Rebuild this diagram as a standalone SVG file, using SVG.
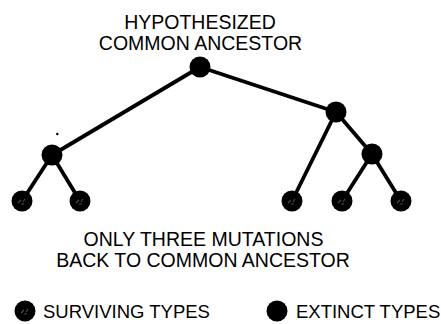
<svg xmlns="http://www.w3.org/2000/svg" width="441" height="324" viewBox="0 0 441 324">
  <style>
    .label { font-family: "Liberation Sans", Arial, Helvetica, sans-serif; font-size: 19.5px; fill: #000; text-anchor: middle; }
    .legend { font-family: "Liberation Sans", Arial, Helvetica, sans-serif; font-size: 18.5px; fill: #000; }
    .edge { stroke: #000; stroke-width: 3.8; stroke-linecap: round; fill: none; }
    .dot { fill: #000; }
    .speck { fill: #5a5a5a; }
  </style>
  <defs>
    <!-- extinct type: plain black disc -->
    <g id="extinct">
      <circle r="10.5" class="dot"/>
    </g>
    <!-- surviving type: black disc with a faint grey mark -->
    <g id="surviving">
      <circle r="10.5" class="dot"/>
      <path d="M-4 2 L-1 -1 M1 1 L3 -2 M-1 3 L2 3" stroke="#4a4a4a" stroke-width="1.2" fill="none"/>
    </g>
  </defs>

  <rect width="441" height="324" fill="#fff"/>

  <g id="title">
    <text class="label" x="200" y="28.5">HYPOTHESIZED</text>
    <text class="label" x="200.5" y="49.5">COMMON ANCESTOR</text>
  </g>

  <g id="connectors">
    <line class="edge" x1="200" y1="67" x2="52" y2="155"/>
    <line class="edge" x1="200" y1="67" x2="336" y2="112"/>
    <line class="edge" x1="52" y1="155" x2="22" y2="201"/>
    <line class="edge" x1="52" y1="155" x2="80" y2="201"/>
    <line class="edge" x1="336" y1="112" x2="292" y2="201"/>
    <line class="edge" x1="336" y1="112" x2="372" y2="154"/>
    <line class="edge" x1="372" y1="154" x2="342" y2="201"/>
    <line class="edge" x1="372" y1="154" x2="401" y2="201"/>
  </g>

  <g id="ancestor"><use href="#extinct" x="200" y="67"/></g>
  <g id="branch-left"><use href="#extinct" x="52" y="155"/></g>
  <g id="branch-right"><use href="#extinct" x="336" y="112"/></g>
  <g id="branch-right-sub"><use href="#extinct" x="372" y="154"/></g>
  <g id="leaf-1"><use href="#surviving" x="22" y="201"/></g>
  <g id="leaf-2"><use href="#surviving" x="80" y="201"/></g>
  <g id="leaf-3"><use href="#surviving" x="292" y="201"/></g>
  <g id="leaf-4"><use href="#surviving" x="342" y="201"/></g>
  <g id="leaf-5"><use href="#surviving" x="401" y="201"/></g>

  <circle cx="57.3" cy="134" r="1.2" fill="#000"/>

  <g id="caption">
    <text class="label" x="203.5" y="245.5">ONLY THREE MUTATIONS</text>
    <text class="label" x="203" y="266.5">BACK TO COMMON ANCESTOR</text>
  </g>

  <g id="legend">
    <use href="#surviving" x="25" y="311"/>
    <text class="legend" x="43" y="318">SURVIVING TYPES</text>
    <use href="#extinct" x="277" y="311"/>
    <text class="legend" x="296" y="318">EXTINCT TYPES</text>
  </g>
</svg>
